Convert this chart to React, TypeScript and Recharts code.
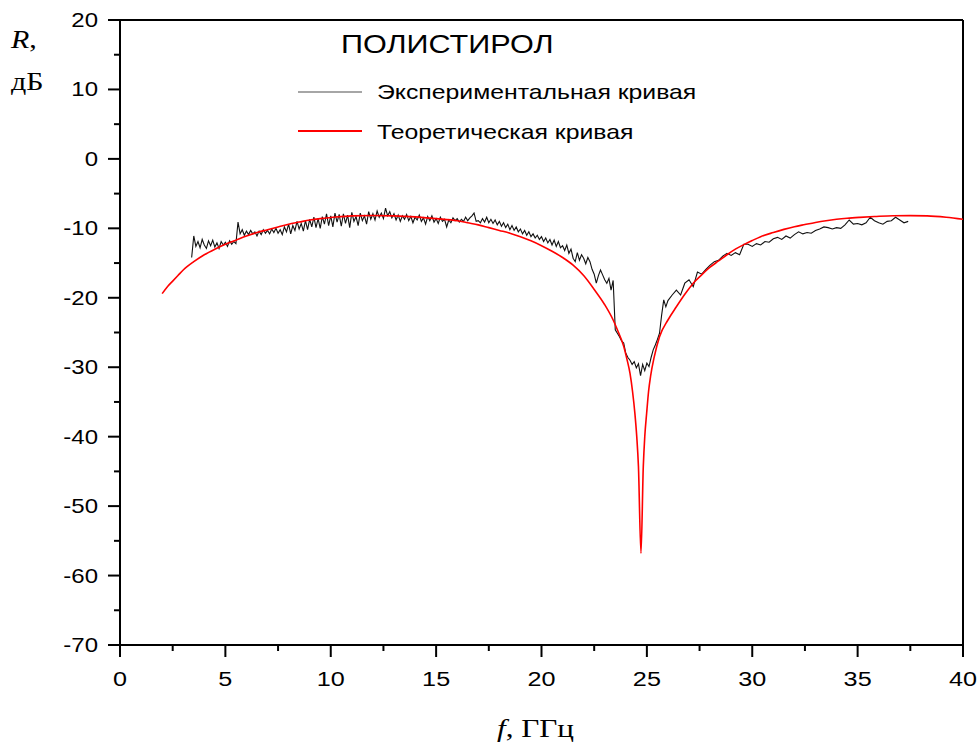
import { Line, LineChart, ReferenceLine, XAxis, YAxis } from "recharts"

// theoretical reflection curve
const THEORY_F = [
  2.0, 2.25, 2.5, 2.75, 3.0, 3.5, 4.0, 4.5, 5.0, 5.5, 6.0, 6.5, 7.0, 7.5, 8.0, 8.5, 9.0, 9.5,
  10.0, 11.0, 12.0, 13.0, 14.0, 15.0, 16.0, 16.5, 17.0, 17.5, 18.0, 18.5, 19.0, 19.5, 20.0,
  20.5, 21.0, 21.5, 22.0, 22.5, 23.0, 23.4, 23.6, 23.9, 24.05, 24.2, 24.32, 24.43, 24.52,
  24.6, 24.72, 24.83, 24.9, 24.99, 25.08, 25.18, 25.35, 25.6, 26.0, 26.4, 26.8, 27.2, 27.6,
  28.0, 28.4, 28.8, 29.2, 29.6, 30.0, 30.4, 31.0, 31.5, 32.0, 32.5, 33.0, 33.5, 34.0, 34.5,
  35.1, 35.8, 36.7, 37.5, 38.3, 39.2, 40.0,
]
const THEORY_R = [
  -19.4, -18.4, -17.6, -16.8, -16.0, -14.8, -13.8, -13.0, -12.3, -11.7, -11.1, -10.6, -10.2,
  -9.8, -9.4, -9.1, -8.8, -8.6, -8.45, -8.2, -8.15, -8.2, -8.35, -8.6, -8.9, -9.2, -9.5, -9.9,
  -10.3, -10.7, -11.2, -11.8, -12.5, -13.3, -14.2, -15.3, -16.8, -18.8, -21.0, -23.2, -24.6,
  -27.0, -28.8, -30.9, -33.5, -36.6, -40.0, -44.3, -56.8, -44.3, -40.0, -36.6, -33.5, -31.2,
  -28.5, -25.6, -23.2, -21.3, -19.5, -17.9, -16.7, -15.6, -14.7, -13.8, -13.0, -12.35,
  -11.75, -11.2, -10.6, -10.15, -9.76, -9.45, -9.15, -8.9, -8.7, -8.55, -8.42, -8.3, -8.18,
  -8.17, -8.2, -8.4, -8.7,
]

// measured curve
const EXP_F = [
  3.4, 3.5, 3.6, 3.7, 3.8, 3.9, 4.0, 4.1, 4.2, 4.3, 4.4, 4.5, 4.6, 4.7, 4.8, 4.9,
  5.0, 5.1, 5.2, 5.3, 5.4, 5.5, 5.6, 5.7, 5.8, 5.9, 6.0, 6.1, 6.2, 6.3, 6.4, 6.5, 6.6, 6.7, 6.8, 6.9,
  7.0, 7.1, 7.2, 7.3, 7.4, 7.5, 7.6, 7.7, 7.8, 7.9, 8.0, 8.1, 8.2, 8.3, 8.4, 8.5, 8.6, 8.7, 8.8, 8.9,
  9.0, 9.1, 9.2, 9.3, 9.4, 9.5, 9.6, 9.7, 9.8, 9.9, 10.0, 10.1, 10.2, 10.3, 10.4, 10.5, 10.6, 10.7, 10.8, 10.9,
  11.0, 11.1, 11.2, 11.3, 11.4, 11.5, 11.6, 11.7, 11.8, 11.9, 12.0, 12.1, 12.2, 12.3, 12.4, 12.5, 12.6, 12.7, 12.8, 12.9,
  13.0, 13.1, 13.2, 13.3, 13.4, 13.5, 13.6, 13.7, 13.8, 13.9, 14.0, 14.1, 14.2, 14.3, 14.4, 14.5, 14.6, 14.7, 14.8, 14.9,
  15.0, 15.1, 15.2, 15.3, 15.4, 15.5, 15.6, 15.7, 15.8, 15.9, 16.0, 16.1, 16.2, 16.3, 16.4, 16.5, 16.6, 16.7, 16.8, 16.9,
  17.0, 17.1, 17.2, 17.3, 17.4, 17.5, 17.6, 17.7, 17.8, 17.9, 18.0, 18.1, 18.2, 18.3, 18.4, 18.5, 18.6, 18.7, 18.8, 18.9,
  19.0, 19.1, 19.2, 19.3, 19.4, 19.5, 19.6, 19.7, 19.8, 19.9, 20.0, 20.1, 20.2, 20.3, 20.4, 20.5, 20.6, 20.7, 20.8, 20.9,
  21.0, 21.1, 21.2, 21.3, 21.4, 21.5, 21.6, 21.7, 21.8, 21.9, 22.0, 22.1, 22.2, 22.3, 22.4, 22.5, 22.6, 22.7, 22.8, 22.9,
  23.0, 23.1, 23.2, 23.3, 23.4, 23.5, 23.6, 23.7, 23.8, 23.9, 24.0, 24.1, 24.2, 24.3, 24.4, 24.5, 24.6, 24.7, 24.8, 24.9,
  25.0, 25.1, 25.2, 25.3, 25.4, 25.5, 25.6, 25.7, 25.8, 25.9, 26.0, 26.2, 26.4, 26.6, 26.8,
  27.0, 27.2, 27.4, 27.6, 27.8, 28.0, 28.2, 28.4, 28.6, 28.8, 29.0, 29.2, 29.4, 29.6, 29.8,
  30.0, 30.2, 30.4, 30.6, 30.8, 31.0, 31.2, 31.4, 31.6, 31.8, 32.0, 32.2, 32.4, 32.6, 32.8,
  33.0, 33.2, 33.4, 33.6, 33.8, 34.0, 34.2, 34.4, 34.6, 34.8, 35.0, 35.2, 35.4, 35.6, 35.8,
  36.0, 36.2, 36.4, 36.6, 36.8, 37.0, 37.2, 37.4,
]
const EXP_R = [
  -14.2, -11.1, -12.6, -11.9, -12.8, -11.6, -12.4, -12.9, -11.8, -12.5, -11.7, -12.7, -12.1, -12.9, -11.9, -12.4,
  -12.0, -12.6, -11.8, -12.3, -11.9, -12.2, -9.1, -10.8, -10.2, -11.0, -10.4, -10.9, -10.3, -10.8, -10.5, -11.1, -10.4, -10.9, -10.2, -10.7,
  -10.3, -10.8, -10.1, -10.6, -10.0, -10.7, -10.2, -10.9, -9.8, -10.5, -9.4, -10.8, -9.6, -10.3, -9.0, -10.1, -9.3, -10.4, -8.9, -10.2,
  -8.7, -9.8, -8.4, -9.9, -8.6, -10.0, -8.3, -9.4, -7.9, -9.6, -8.2, -9.8, -7.8, -9.1, -8.0, -9.7, -7.9, -9.3, -8.1, -9.9,
  -7.7, -9.0, -8.3, -9.6, -7.8, -8.9, -8.2, -9.4, -7.6, -8.7, -7.9, -8.8, -7.5, -8.4, -7.8, -8.6, -7.1, -8.2, -7.6, -8.5,
  -7.9, -8.8, -8.1, -9.0, -8.2, -8.7, -8.0, -8.9, -8.3, -9.2, -8.4, -8.8, -8.1, -9.0, -8.5, -9.4, -8.3, -8.9, -8.2, -9.1,
  -8.6, -9.3, -8.4, -9.0, -8.7, -9.8, -8.8, -9.2, -8.5, -8.9, -8.6, -9.1, -8.7, -9.0, -8.4, -8.9, -8.5, -8.2, -7.8, -9.0,
  -8.9, -9.2, -8.6, -9.1, -8.4, -9.2, -8.7, -9.3, -8.8, -9.5, -9.0, -9.7, -9.2, -9.9, -9.4, -10.2, -9.6, -10.3, -9.8, -10.5,
  -10.1, -10.8, -10.3, -11.0, -10.5, -11.2, -10.8, -11.4, -11.0, -11.6, -11.2, -11.9, -11.4, -12.1, -11.6, -12.4, -11.7, -12.6, -11.9, -12.8,
  -12.5, -13.2, -12.4, -13.6, -13.0, -14.3, -14.8, -13.5, -14.6, -13.8, -14.3, -15.1, -14.2, -14.8, -15.9, -16.6, -17.9, -16.8, -16.0, -16.7,
  -17.4, -17.9, -17.2, -18.9, -17.5, -24.6, -25.1, -25.6, -26.2, -26.5, -28.0, -28.6, -29.0, -29.6, -29.2, -30.1, -29.5, -31.2, -29.6, -30.5,
  -29.4, -29.9, -28.6, -27.5, -26.8, -26.0, -25.1, -22.5, -20.3, -21.3, -20.4, -19.6, -18.9, -19.6, -17.9,
  -17.4, -18.4, -16.3, -16.6, -15.9, -15.3, -14.8, -14.6, -14.0, -13.6, -13.9, -13.5, -13.8, -12.3, -12.3,
  -12.6, -12.2, -12.4, -11.9, -12.0, -11.5, -11.3, -11.6, -11.1, -11.4, -10.9, -10.5, -10.8, -10.6, -10.7,
  -10.3, -10.1, -9.8, -9.9, -10.1, -9.9, -10.0, -9.5, -8.8, -9.4, -9.3, -9.5, -9.2, -8.4, -8.9,
  -9.2, -9.4, -9.0, -8.9, -8.4, -8.8, -9.2, -9.0,
]

const X_TICKS = [0, 2.5, 5, 7.5, 10, 12.5, 15, 17.5, 20, 22.5, 25, 27.5, 30, 32.5, 35, 37.5, 40]
const Y_TICKS = [-70, -65, -60, -55, -50, -45, -40, -35, -30, -25, -20, -15, -10, -5, 0, 5, 10, 15, 20]

const SANS = "'Liberation Sans', Arial, sans-serif"
const SERIF = "'Liberation Serif', 'Times New Roman', serif"
const STRETCH = 1.2

const theoryData = THEORY_F.map((f, i) => ({ f, r: THEORY_R[i] }))
const expData = EXP_F.map((f, i) => ({ f, r: EXP_R[i] }))

function XTick({ x, y, payload }: any) {
  const v = payload.value
  const major = v % 5 === 0
  return (
    <g>
      <line x1={x} y1={y} x2={x} y2={y + (major ? 12 : 6)} stroke="#000" strokeWidth={2} />
      {major && (
        <text
          transform={`translate(${x},${y + 41}) scale(${STRETCH},1)`}
          textAnchor="middle"
          fontFamily={SANS}
          fontSize={21}
          fill="#000"
        >
          {v}
        </text>
      )}
    </g>
  )
}

function YTick({ x, y, payload }: any) {
  const v = payload.value
  const major = v % 10 === 0
  return (
    <g>
      <line x1={x - (major ? 12 : 6)} y1={y} x2={x} y2={y} stroke="#000" strokeWidth={2} />
      {major && (
        <text
          transform={`translate(${x - 22},${y + 7}) scale(${STRETCH},1)`}
          textAnchor="end"
          fontFamily={SANS}
          fontSize={20}
          fill="#000"
        >
          {v}
        </text>
      )}
    </g>
  )
}

export default function App() {
  return (
    <div style={{ position: "absolute", left: 0, top: 0, width: 978, height: 745, background: "#fff" }}>
      <LineChart width={978} height={745} margin={{ top: 20, right: 15, left: 60, bottom: 70 }}>
        <XAxis
          type="number"
          dataKey="f"
          domain={[0, 40]}
          ticks={X_TICKS}
          interval={0}
          allowDataOverflow
          height={30}
          tickSize={0}
          tickMargin={0}
          tickLine={false}
          axisLine={{ stroke: "#000", strokeWidth: 2 }}
          tick={<XTick />}
        />
        <YAxis
          type="number"
          dataKey="r"
          domain={[-70, 20]}
          ticks={Y_TICKS}
          interval={0}
          allowDataOverflow
          width={60}
          tickSize={0}
          tickMargin={0}
          tickLine={false}
          axisLine={{ stroke: "#000", strokeWidth: 2 }}
          tick={<YTick />}
        />
        <ReferenceLine y={20} stroke="#000" strokeWidth={2} />
        <ReferenceLine x={40} stroke="#000" strokeWidth={2} />
        <Line
          data={expData}
          dataKey="r"
          type="linear"
          stroke="#111"
          strokeWidth={1.1}
          dot={false}
          isAnimationActive={false}
        />
        <Line
          data={theoryData}
          dataKey="r"
          type="monotone"
          stroke="#ff0000"
          strokeWidth={1.6}
          dot={false}
          isAnimationActive={false}
        />
      </LineChart>

      <svg
        width={978}
        height={745}
        style={{ position: "absolute", left: 0, top: 0, pointerEvents: "none" }}
      >
        <text transform={`translate(341,53) scale(${STRETCH},1)`} fontFamily={SANS} fontSize={25.5}>
          ПОЛИСТИРОЛ
        </text>
        <line x1={298} y1={92} x2={362} y2={92} stroke="#888" strokeWidth={1.5} />
        <text transform={`translate(377,99) scale(1.24,1)`} fontFamily={SANS} fontSize={20}>
          Экспериментальная кривая
        </text>
        <line x1={298} y1={131} x2={362} y2={131} stroke="#ff0000" strokeWidth={1.8} />
        <text transform={`translate(377,139) scale(1.24,1)`} fontFamily={SANS} fontSize={20}>
          Теоретическая кривая
        </text>

        <text transform={`translate(11,48) scale(${STRETCH},1)`} fontFamily={SERIF} fontSize={25}>
          <tspan fontStyle="italic">R</tspan>,
        </text>
        <text transform={`translate(11,90) scale(${STRETCH},1)`} fontFamily={SERIF} fontSize={25}>
          дБ
        </text>
        <text transform={`translate(497,737) scale(${STRETCH},1)`} fontFamily={SERIF} fontSize={26}>
          <tspan fontStyle="italic">f</tspan>, ГГц
        </text>
      </svg>
    </div>
  )
}
